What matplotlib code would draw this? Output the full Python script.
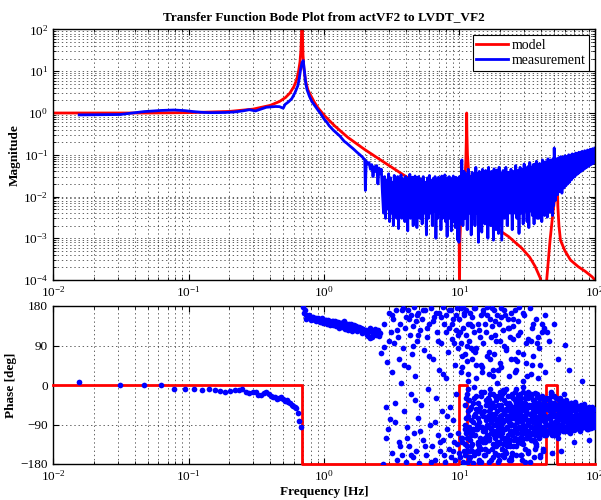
import numpy as np
import matplotlib
matplotlib.use("Agg")
import matplotlib.pyplot as plt
from matplotlib.ticker import FixedLocator, LogLocator, NullFormatter

matplotlib.rcParams['font.family'] = "Liberation Serif"
matplotlib.rcParams['mathtext.default'] = 'regular'
matplotlib.rcParams.update({'font.size': 9.5})

title = "Transfer Function Bode Plot from actVF2 to LVDT_VF2"

# model magnitude
model_f = [0.01, 0.05, 0.1, 0.2, 0.3, 0.4, 0.47, 0.52, 0.56, 0.6, 0.63, 0.65, 0.665,
           0.675, 0.682, 0.686, 0.69, 0.694, 0.70, 0.71, 0.73, 0.76, 0.8, 0.85, 0.9,
           1.0, 1.2, 1.5, 2.0, 3.0, 4.0, 5.0, 6.0, 7.0, 8.0, 9.0, 9.5, 9.8, 9.95, 10.0,
           10.05, 10.2, 10.5, 10.8, 11.0, 11.15, 11.25, 11.3, 11.35, 11.45, 11.7, 12.5,
           14.0, 16.0, 19.4, 23.0, 28.8, 33.0, 36.2, 39.5, 41.0, 42.0, 43.0, 44.0,
           46.6, 48.9, 50.7, 51.5, 52.2, 52.6, 53.2, 54.2, 55.6, 60.0, 66.0, 75.0,
           85.0, 95.0, 100.0]
model_mag = [1.0, 1.0, 1.02, 1.09, 1.24, 1.52, 1.89, 2.35, 3.0, 4.3, 6.4, 10.3, 16.8,
             31, 70, 300, 300, 70, 25, 12, 6.0, 3.6, 2.6, 1.8, 1.35,
             0.89, 0.49, 0.26, 0.133, 0.056, 0.0305, 0.0195, 0.0133, 0.0095, 0.0072, 0.0055, 0.0045, 0.0025, 0.0008, 0.00003,
             0.0008, 0.0025, 0.006, 0.015, 0.03, 0.08, 0.3, 1.0, 0.3, 0.1, 0.035, 0.013,
             0.0062, 0.0035, 0.0016, 0.0011, 0.00058, 0.00035, 0.00021, 0.00011, 0.00004, 0.00001, 0.00004, 0.0001,
             0.0009, 0.004, 0.01, 0.02, 0.05, 0.03, 0.0057, 0.002, 0.0009, 0.0005, 0.0003, 0.00021,
             0.00016, 0.00012, 0.0001]

# model phase
model_ph_f = [0.01, 0.69, 0.69, 10.0, 10.0, 11.3, 11.3, 43.5, 43.5, 52.5, 52.5, 100]
model_ph = [0, 0, -180, -180, 0, 0, -180, -180, 0, 0, -180, -180]

# measured magnitude, smooth part
meas_f = [0.0156, 0.0312, 0.0469, 0.0625, 0.0781, 0.0938, 0.109, 0.125, 0.141, 0.156,
          0.188, 0.219, 0.25, 0.281, 0.312, 0.344, 0.375, 0.406, 0.438, 0.469,
          0.5, 0.516, 0.547, 0.578, 0.609, 0.641, 0.656, 0.672, 0.688, 0.703,
          0.719, 0.734, 0.75, 0.781, 0.812, 0.844, 0.875, 0.906, 0.938, 1.0,
          1.05, 1.09, 1.17, 1.25, 1.31, 1.41, 1.47, 1.56, 1.64, 1.75,
          1.84, 1.94, 2.0]
meas_mag = [0.9, 0.92, 1.08, 1.15, 1.18, 1.14, 1.08, 1.04, 1.02, 1.02,
            1.03, 1.06, 1.12, 1.2, 1.12, 1.25, 1.37, 1.4, 1.43, 1.42,
            1.3, 1.6, 1.85, 2.2, 3.0, 4.5, 6.5, 11, 16, 18,
            9, 5, 3.6, 2.5, 1.9, 1.6, 1.35, 1.15, 1.0, 0.72,
            0.6, 0.5, 0.39, 0.32, 0.28, 0.21, 0.19, 0.16, 0.14, 0.115,
            0.1, 0.085, 0.075]

# measured magnitude, noisy part above 2 Hz
noisy_f = [2.02, 2.05, 2.1, 2.15, 2.2, 2.25, 2.3, 2.35, 2.4, 2.45, 2.5, 2.55, 2.6, 2.65, 2.7,
           2.75, 2.8, 2.85, 2.9, 2.95, 3.0, 3.05, 3.1, 3.15, 3.2, 3.25, 3.3, 3.35, 3.4, 3.45, 3.5,
           3.55, 3.6, 3.65, 3.7, 3.75, 3.8, 3.85, 3.9, 3.95, 4.0, 4.05, 4.1, 4.15, 4.2, 4.25, 4.3,
           4.35, 4.4, 4.45, 4.5, 4.55, 4.6, 4.65, 4.7, 4.75, 4.8, 4.85, 4.9, 4.95, 5.0,
           5.1, 5.2, 5.3, 5.4, 5.5, 5.6, 5.7, 5.8, 5.9, 6.0,
           6.1, 6.2, 6.3, 6.4, 6.5, 6.6, 6.7, 6.8, 6.9, 7.0,
           7.1, 7.2, 7.3, 7.4, 7.5, 7.6, 7.7, 7.8, 7.9, 8.0,
           8.1, 8.2, 8.3, 8.4, 8.5, 8.6, 8.7, 8.8, 8.9, 9.0,
           9.1, 9.2, 9.3, 9.4, 9.5, 9.6, 9.7, 9.8, 9.9, 10.0,
           10.2, 10.4, 10.6, 10.8, 11.0, 11.2, 11.4, 11.6, 11.8, 12.0,
           12.2, 12.4, 12.6, 12.8, 13.0, 13.2, 13.4, 13.6, 13.8, 14.0,
           14.2, 14.4, 14.6, 14.8, 15.0, 15.2, 15.4, 15.6, 15.8, 16.0,
           16.2, 16.4, 16.6, 16.8, 17.0, 17.2, 17.4, 17.6, 17.8, 18.0,
           18.2, 18.4, 18.6, 18.8, 19.0, 19.2, 19.4, 19.6, 19.8, 20.0,
           20.5, 21.0, 21.5, 22.0, 22.5, 23.0, 23.5, 24.0, 24.5, 25.0,
           25.5, 26.0, 26.5, 27.0, 27.5, 28.0, 28.5, 29.0, 29.5, 30.0,
           30.5, 31.0, 31.5, 32.0, 32.5, 33.0, 33.5, 34.0, 34.5, 35.0,
           35.5, 36.0, 36.5, 37.0, 37.5, 38.0, 38.5, 39.0, 39.5, 40.0,
           40.5, 41.0, 41.5, 42.0, 42.5, 43.0, 43.5, 44.0, 44.5, 45.0,
           45.5, 46.0, 46.5, 47.0, 47.5, 48.0, 48.5, 49.0, 49.5, 50.0,
           51, 52, 53, 54, 55, 56, 57, 58, 59, 60,
           61, 62, 63, 64, 65, 66, 67, 68, 69, 70,
           71, 72, 73, 74, 75, 76, 77, 78, 79, 80,
           81, 82, 83, 84, 85, 86, 87, 88, 89, 90,
           91, 92, 93, 94, 95, 96, 97, 98, 99, 100]
noisy_mag = [0.014, 0.07, 0.06, 0.065, 0.045, 0.058, 0.03, 0.052, 0.04, 0.055, 0.02, 0.048, 0.035, 0.045, 0.012,
             0.004, 0.03, 0.003, 0.025, 0.005, 0.035, 0.0025, 0.028, 0.004, 0.022, 0.002, 0.032, 0.0045, 0.026, 0.003, 0.03,
             0.0017, 0.024, 0.004, 0.033, 0.003, 0.027, 0.005, 0.022, 0.0025, 0.03, 0.004, 0.025, 0.0015, 0.028, 0.0045, 0.034,
             0.003, 0.023, 0.004, 0.029, 0.002, 0.026, 0.0042, 0.031, 0.003, 0.024, 0.0018, 0.028, 0.004, 0.03,
             0.003, 0.026, 0.0022, 0.03, 0.004, 0.022, 0.0012, 0.028, 0.003, 0.032,
             0.004, 0.024, 0.002, 0.027, 0.0045, 0.03, 0.001, 0.025, 0.003, 0.029,
             0.004, 0.023, 0.0016, 0.031, 0.003, 0.026, 0.0045, 0.033, 0.0025, 0.025,
             0.0011, 0.028, 0.004, 0.03, 0.003, 0.024, 0.0015, 0.027, 0.004, 0.031,
             0.0025, 0.026, 0.0018, 0.029, 0.003, 0.025, 0.0009, 0.028, 0.0008, 0.03,
             0.0022, 0.075, 0.002, 0.04, 0.003, 0.035, 0.0016, 0.045, 0.004, 0.03,
             0.0012, 0.038, 0.003, 0.032, 0.002, 0.05, 0.004, 0.035, 0.0008, 0.04,
             0.0025, 0.03, 0.0014, 0.045, 0.004, 0.033, 0.0022, 0.042, 0.003, 0.03,
             0.001, 0.05, 0.003, 0.036, 0.002, 0.04, 0.004, 0.032, 0.0009, 0.046,
             0.0025, 0.035, 0.0016, 0.043, 0.004, 0.034, 0.0013, 0.05, 0.003, 0.038,
             0.0009, 0.042, 0.003, 0.05, 0.002, 0.038, 0.004, 0.045, 0.0016, 0.04,
             0.004, 0.055, 0.003, 0.042, 0.0013, 0.05, 0.004, 0.045, 0.0022, 0.06,
             0.0045, 0.048, 0.0025, 0.052, 0.0018, 0.065, 0.0045, 0.05, 0.0035, 0.058,
             0.0022, 0.06, 0.005, 0.07, 0.003, 0.055, 0.003, 0.062, 0.005, 0.058,
             0.0025, 0.075, 0.0045, 0.06, 0.0035, 0.068, 0.006, 0.065, 0.0032, 0.08,
             0.006, 0.07, 0.0042, 0.075, 0.0065, 0.072, 0.0035, 0.08, 0.006, 0.145,
             0.008, 0.08, 0.011, 0.085, 0.013, 0.09, 0.012, 0.088, 0.016, 0.095,
             0.018, 0.09, 0.02, 0.1, 0.022, 0.098, 0.025, 0.105, 0.028, 0.1,
             0.03, 0.11, 0.033, 0.105, 0.035, 0.115, 0.038, 0.11, 0.04, 0.12,
             0.043, 0.115, 0.045, 0.125, 0.048, 0.12, 0.05, 0.13, 0.053, 0.125,
             0.055, 0.135, 0.058, 0.13, 0.06, 0.14, 0.062, 0.135, 0.065, 0.145]

# measured phase below the resonance
phA_f = [0.0156, 0.0312, 0.0469, 0.0625, 0.0781, 0.0938, 0.1094, 0.125, 0.1406, 0.1562,
         0.1719, 0.1875, 0.2031, 0.2188, 0.2344, 0.25, 0.2656, 0.2812, 0.2969, 0.3125,
         0.3281, 0.3438, 0.3594, 0.375, 0.3906, 0.4062, 0.4219, 0.4375, 0.4531, 0.4688,
         0.4844, 0.5, 0.5156, 0.5312, 0.5469, 0.5625, 0.5781, 0.5938, 0.6094, 0.625,
         0.6406, 0.6562, 0.6719]
phA = [7, -1, 1, -1, -10, -10, -8, -11, -8, -11,
       -14, -16, -13, -12, -11, -10, -15, -19, -17, -16,
       -23, -23, -18, -17, -20, -25, -27, -28, -32, -29,
       -27, -32, -36, -34, -38, -41, -46, -48, -50, -52,
       -64, -83, -95]

# measured phase, 0.7 - 2.6 Hz band
phB_f = [0.703, 0.719, 0.734, 0.75, 0.766, 0.781, 0.797, 0.812, 0.828, 0.844,
         0.859, 0.875, 0.891, 0.906, 0.922, 0.938, 0.953, 0.969, 1.0, 1.03,
         1.06, 1.09, 1.12, 1.16, 1.19, 1.22, 1.25, 1.28, 1.31, 1.34,
         1.38, 1.41, 1.44, 1.48, 1.52, 1.56, 1.59, 1.62, 1.66, 1.7,
         1.73, 1.77, 1.8, 1.84, 1.88, 1.92, 1.95, 2.0, 2.05, 2.1,
         2.14, 2.2, 2.25, 2.3, 2.36, 2.42, 2.48, 2.55, 2.6,
         0.71, 0.742, 0.774, 0.805, 0.836, 0.867, 0.898, 0.93, 0.961, 0.985,
         1.015, 1.045, 1.075, 1.105, 1.14, 1.175, 1.205, 1.235, 1.265, 1.295,
         1.325, 1.36, 1.395, 1.43, 1.46, 1.5, 1.54, 1.6, 1.68, 1.75,
         1.82, 1.9, 1.98, 2.08, 2.18, 2.28, 2.39, 2.5]
phB = [178, 172, 160, 157, 155, 156, 152, 154, 150, 151,
       149, 152, 148, 150, 147, 149, 146, 148, 145, 147,
       144, 146, 142, 145, 141, 143, 139, 142, 138, 141,
       137, 140, 135, 139, 136, 133, 138, 131, 136, 129,
       134, 127, 132, 125, 130, 122, 128, 120, 126, 111,
       124, 108, 121, 118, 127, 115, 122, 112, 119,
       165, 150, 160, 148, 156, 145, 153, 144, 152, 141,
       149, 139, 148, 137, 146, 136, 145, 134, 144, 130,
       142, 132, 145, 128, 140, 126, 138, 124, 131, 122,
       128, 118, 125, 114, 129, 110, 117, 125]

# measured phase, 2.6 - 10 Hz (scattered)
phC_f = [2.65, 2.72, 2.78, 2.85, 2.9, 2.95, 3.0, 3.05, 3.1, 3.15,
         3.2, 3.25, 3.3, 3.35, 3.4, 3.45, 3.5, 3.55, 3.6, 3.65,
         3.7, 3.75, 3.8, 3.85, 3.9, 3.95, 4.0, 4.05, 4.1, 4.15,
         4.2, 4.25, 4.3, 4.35, 4.4, 4.45, 4.5, 4.55, 4.6, 4.65,
         4.7, 4.75, 4.8, 4.85, 4.9, 4.95, 5.0, 5.1, 5.2, 5.3,
         5.4, 5.5, 5.6, 5.7, 5.8, 5.9, 6.0, 6.1, 6.2, 6.3,
         6.4, 6.5, 6.6, 6.7, 6.8, 6.9, 7.0, 7.1, 7.2, 7.3,
         7.4, 7.5, 7.6, 7.7, 7.8, 7.9, 8.0, 8.1, 8.2, 8.3,
         8.4, 8.5, 8.6, 8.7, 8.8, 8.9, 9.0, 9.1, 9.2, 9.3,
         9.4, 9.5, 9.6, 9.7, 9.8, 9.9,
         2.75, 2.88, 3.02, 3.18, 3.32, 3.48, 3.62, 3.78, 3.92, 4.08,
         4.22, 4.38, 4.52, 4.68, 4.82, 4.98, 5.15, 5.35, 5.55, 5.75,
         5.95, 6.15, 6.35, 6.55, 6.75, 6.95, 7.15, 7.35, 7.55, 7.75,
         7.95, 8.15, 8.35, 8.55, 8.75, 8.95, 9.15, 9.35, 9.55, 9.75]
phC = [73, -179, 87, -120, 53, -100, 165, -78, 120, 30,
       -155, 150, 95, -40, 170, -170, 110, 60, -130, 140,
       5, -160, 175, 85, -60, 130, -175, 155, -95, 40,
       170, -140, 115, -20, 160, 70, -165, 135, -110, 178,
       20, 145, -150, 100, -75, 165, -178, 125, -45, 150,
       -125, 80, 170, -160, 110, -10, 140, -90, 175, -140,
       60, 155, -170, -30, 120, -115, 165, 35, -150, 95,
       -60, 178, -125, 140, -175, 15, 160, -100, 75, -145,
       130, -50, 170, -165, 105, -80, 150, -130, 45, -170,
       125, -20, 175, -110, 85, -155,
       140, -50, 100, 160, -85, 125, -140, 170, 45, -120,
       150, -160, 90, -35, 160, 115, -105, 170, -140, 130,
       65, -175, 145, -85, 165, 100, -130, 155, 25, -160,
       120, -70, 170, -115, 140, -150, 95, 160, -135, 115]

# measured phase above 10 Hz: dense cloud
phD_f = [11.0, 11.1, 11.2, 11.3, 11.4, 11.5, 11.7, 11.8, 11.9, 12.1,
         12.2, 12.4, 12.5, 12.7, 12.8, 13.0, 13.2, 13.4, 13.6, 13.8,
         14.0, 14.2, 14.4, 14.7, 14.9,
         15.1, 15.2, 15.4, 15.5, 15.7, 15.8, 16.0, 16.1, 16.3, 16.4,
         16.6, 16.7, 16.9, 17.0, 17.2, 17.3, 17.5, 17.6, 17.8, 17.9,
         18.1, 18.2, 18.4, 18.5, 18.7, 18.8, 19.0, 19.1, 19.3, 19.4,
         19.6, 19.7, 19.8, 19.9, 20.0,
         20.2, 20.4, 20.6, 20.8, 21.0, 21.2, 21.4, 21.6, 21.8, 22.0,
         22.2, 22.4, 22.6, 22.8, 23.0, 23.2, 23.4, 23.6, 23.8, 24.0,
         24.3, 24.5, 24.7, 25.0, 25.2, 25.4, 25.7, 25.9, 26.1, 26.4,
         26.6, 26.8, 27.1, 27.3, 27.5, 27.8, 28.0, 28.2, 28.5, 28.7,
         28.9, 29.1, 29.3, 29.5, 29.7, 29.9, 24.1, 26.0, 27.0, 28.4,
         30.2, 30.5, 30.8, 31.1, 31.4, 31.7, 32.0, 32.3, 32.6, 32.9,
         33.2, 33.5, 33.8, 34.1, 34.4, 34.7, 35.0, 35.3, 35.6, 35.9,
         36.2, 36.5, 36.8, 37.1, 37.4, 37.7, 38.0, 38.3, 38.6, 38.9,
         39.2, 39.5, 39.8, 40.1, 40.4, 40.7, 41.0, 41.4, 41.8, 42.2,
         42.6, 43.0, 43.4, 43.8, 44.2, 44.6, 31.0, 34.0, 37.0, 40.0,
         45.0, 45.5, 46.0, 46.5, 47.0, 47.5, 48.0, 48.5, 49.0, 49.5,
         50.0, 50.5, 51.0, 51.5, 52.0, 52.5, 53.0, 53.5, 54.0, 54.5,
         55.0, 55.6, 56.2, 56.8, 57.4, 58.0, 58.6, 59.2, 59.8, 60.4,
         61.0, 61.6, 62.2, 62.8, 63.4, 64.0, 64.6, 46.3, 48.7, 51.2,
         53.8, 56.5, 59.0, 61.3, 63.7,
         65.5, 66.5, 67.5, 68.5, 69.5, 70.5, 71.5, 72.5, 73.5, 74.5,
         75.5, 76.5, 77.5, 78.5, 79.5, 80.5, 81.5, 82.5, 83.5, 84.5,
         85.5, 86.5, 87.5, 88.5, 89.5, 90.5, 91.5, 92.5, 93.5, 94.5,
         95.5, 96.5, 97.5, 98.5, 99.5, 67.0, 70.0, 73.0, 76.0, 79.0,
         82.0, 85.0, 88.0, 91.0, 94.0, 97.0, 99.0, 72.0, 81.0, 90.0]
phD = [-45, -110, -75, -20, -140, -60, -95, -35, -125, -80,
       -50, -150, -100, -30, -70, -115, -55, -90, -135, -40,
       -85, -120, -25, -65, -105,
       -60, -15, -100, -130, -45, -80, -115, -30, -70, -95,
       -125, -55, -10, -85, -110, -40, -65, -135, -20, -90,
       -50, -120, -75, -35, -105, -60, -130, -25, -95, -45,
       -80, -115, -15, -70, -100,
       -45, -90, -20, -120, -65, -100, -35, -80, -130, -55,
       -10, -95, -70, -115, -40, -85, -60, -125, -25, -105,
       -50, -75, -110, -30, -90, -65, -15, -120, -45, -100,
       -80, -55, -130, -35, -95, -70, -20, -110, -60, -85,
       -40, -125, -5, -75, -100, -50, -88, -42, -68, -118,
       -70, -30, -105, -55, -90, -120, -15, -80, -45, -110,
       -65, -95, -25, -125, -50, -85, -35, -100, -70, -60,
       -115, -40, -90, -20, -75, -105, -55, -120, -30, -85,
       -65, -100, -45, -80, -110, -25, -60, -95, -40, -115,
       -70, -50, -90, -30, -105, -75, -62, -48, -98, -58,
       -50, -90, -30, -75, -110, -60, -40, -95, -70, -115,
       -25, -85, -55, -100, -45, -80, -65, -105, -35, -90,
       -60, -75, -45, -100, -55, -85, -70, -40, -95, -60,
       -80, -50, -105, -65, -90, -45, -75, -68, -52, -82,
       -58, -92, -62, -72, -88,
       -60, -85, -50, -95, -70, -45, -100, -65, -80, -55,
       -90, -75, -50, -98, -62, -85, -72, -48, -92, -68,
       -80, -55, -100, -70, -60, -88, -76, -52, -95, -66,
       -82, -58, -90, -72, -78, -40, -102, -58, -88, -45,
       -96, -62, -84, -50, -98, -65, -75, -75, -65, -80]

# second pass over the dense cloud
phD2_f = [11.05, 11.15, 11.35, 11.55, 11.65, 11.95, 12.05, 12.3, 12.55, 12.65,
          12.9, 13.1, 13.3, 13.5, 13.7, 13.9, 14.1, 14.3, 14.5, 14.8,
          15.0, 15.3, 15.6, 15.9, 16.2, 16.5, 16.8, 17.1, 17.4, 17.7,
          18.0, 18.3, 18.6, 18.9, 19.2, 19.5, 19.8, 11.8, 12.9, 13.9,
          14.6, 15.4, 16.2, 16.9, 17.6, 18.3, 19.0, 19.6, 13.3, 16.6,
          20.1, 20.3, 20.5, 20.7, 20.9, 21.1, 21.3, 21.5, 21.7, 21.9,
          22.1, 22.3, 22.5, 22.7, 22.9, 23.1, 23.3, 23.5, 23.7, 23.9,
          24.2, 24.4, 24.6, 24.8, 25.1, 25.3, 25.6, 25.8, 26.2, 26.5,
          26.7, 26.9, 27.2, 27.4, 27.6, 27.9, 28.1, 28.3, 28.6, 28.8,
          29.0, 29.2, 29.4, 29.6, 29.8, 30.0, 30.3, 30.6, 30.9, 31.2,
          31.5, 31.8, 32.1, 32.4, 32.7, 33.0, 33.3, 33.6, 33.9, 34.2,
          34.5, 34.8, 35.1, 35.4, 35.7, 36.0, 36.3, 36.6, 36.9, 37.2,
          37.5, 37.8, 38.1, 38.4, 38.7, 39.0, 39.3, 39.6, 39.9, 40.2,
          40.5, 40.8, 41.2, 41.6, 42.0, 42.4, 42.8, 43.2, 43.6, 44.0,
          44.4, 44.8, 21.0, 23.5, 26.0, 28.5, 31.0, 33.5, 36.0, 38.5,
          45.2, 45.7, 46.2, 46.7, 47.2, 47.7, 48.2, 48.7, 49.2, 49.7,
          50.2, 50.7, 51.2, 51.7, 52.2, 52.7, 53.2, 53.7, 54.2, 54.7,
          55.3, 55.9, 56.5, 57.1, 57.7, 58.3, 58.9, 59.5, 60.1, 60.7,
          61.3, 61.9, 62.5, 63.1, 63.7, 64.3, 64.9, 65.8, 66.8, 67.8,
          68.8, 69.8, 70.8, 71.8, 72.8, 73.8, 74.8, 75.8, 76.8, 77.8,
          78.8, 79.8, 80.8, 81.8, 82.8, 83.8, 84.8, 85.8, 86.8, 87.8,
          88.8, 89.8, 90.8, 91.8, 92.8, 93.8, 94.8, 95.8, 96.8, 97.8,
          98.8, 99.8, 46.0, 49.0, 52.0, 55.0, 58.0, 61.0, 64.0, 67.0,
          70.0, 73.0, 76.0, 79.0, 82.0, 85.0, 88.0, 91.0, 94.0, 97.0,
          47.5, 53.5, 59.5, 65.5, 71.5, 77.5, 83.5, 89.5, 95.5, 99.0]
phD2 = [-90, -30, -120, -70, -10, -105, -55, -135, -85, -40,
        -115, -65, -25, -100, -75, -145, -50, -95, -15, -130,
        -70, -105, -35, -90, -125, -60, -20, -100, -80, -45,
        -115, -65, -140, -30, -85, -110, -55, -150, -5, -60,
        -95, -120, -45, -75, -105, -25, -85, -130, -100, -35,
        -75, -30, -110, -55, -135, -85, -15, -100, -60, -40,
        -120, -70, -95, -25, -50, -130, -80, -105, -45, -65,
        -90, -20, -115, -55, -75, -125, -35, -100, -60, -85,
        -110, -25, -70, -95, -45, -120, -65, -30, -100, -80,
        -55, -135, -15, -90, -110, -70, -40, -95, -120, -60,
        -80, -30, -105, -50, -85, -115, -65, -20, -95, -75,
        -45, -110, -60, -125, -35, -85, -70, -100, -50, -80,
        -25, -115, -60, -90, -40, -105, -70, -55, -95, -30,
        -80, -110, -50, -65, -100, -35, -85, -75, -115, -55,
        -90, -45, -12, -140, -8, -132, -20, -125, -18, -118,
        -75, -35, -100, -60, -85, -20, -115, -50, -90, -65,
        -40, -105, -70, -30, -95, -55, -80, -110, -45, -65,
        -90, -35, -75, -100, -55, -85, -65, -105, -45, -80,
        -60, -95, -40, -75, -100, -55, -85, -65, -95, -50,
        -80, -70, -60, -90, -48, -82, -68, -100, -55, -78,
        -92, -62, -86, -52, -74, -96, -58, -80, -70, -88,
        -64, -92, -56, -78, -84, -60, -96, -72, -54, -86,
        -68, -80, -108, -25, -112, -30, -105, -35, -100, -42,
        -98, -45, -97, -48, -95, -50, -94, -52, -92, -55,
        -15, -120, -20, -110, -38, -104, -44, -100, -50, -95]

# measured phase above 10 Hz: scattered points
phE_f = [10.0, 10.1, 10.2, 10.3, 10.4, 10.5, 10.6, 10.7, 10.8, 10.9,
         11.0, 11.1, 11.25, 11.35, 11.5, 11.6, 11.75, 11.85, 12.0, 12.15,
         12.3, 12.45, 12.6, 12.75, 12.9, 13.1, 13.3, 13.5, 13.7, 13.9,
         14.1, 14.3, 14.5, 14.6, 14.8, 10.25, 10.65, 11.45, 12.35, 13.6,
         15.0, 15.3, 15.6, 15.9, 16.2, 16.5, 16.8, 17.1, 17.4, 17.7,
         18.0, 18.3, 18.6, 18.9, 19.2, 19.5, 19.8, 20.1, 20.5, 20.9,
         21.3, 21.7, 22.1, 22.5, 22.9, 23.3, 23.7, 24.1, 24.5, 24.9,
         15.5, 16.4, 17.3, 18.2, 19.1, 20.3, 21.5, 22.7, 23.9, 24.7,
         25.5, 26.3, 27.2, 28.1, 29.0, 30.0, 31.0, 32.0, 33.1, 34.2,
         35.3, 36.5, 37.7, 39.0, 40.3, 41.6, 43.0, 44.4, 27.7, 30.5,
         33.6, 36.0, 38.5, 42.0, 25.8,
         46, 48, 50, 53, 56, 60, 64, 70, 80, 90,
         10.2, 10.8, 11.3, 11.9, 12.6, 13.2, 13.9, 14.5, 15.2, 15.9,
         16.6, 17.3, 18.0, 18.8, 19.6, 20.4, 21.3, 22.2, 23.1, 24.0,
         25.0, 26.1, 27.2, 28.3, 29.5, 30.8, 32.1, 33.5, 34.9, 36.4,
         37.9, 39.5, 41.2, 43.0, 12.2, 14.0, 17.8, 21.8, 26.7, 31.5,
         10.15, 10.45, 10.75, 11.05, 11.4, 11.7, 12.05, 12.4, 12.8, 13.2,
         13.6, 14.0, 14.4, 14.9, 15.4, 15.9, 16.5, 17.1, 17.7, 18.4,
         19.1, 19.8, 20.6, 21.4, 22.2, 23.1, 24.0, 25.0, 26.0, 27.1,
         28.2, 29.4, 30.6, 31.9, 33.2, 34.6, 36.0, 37.5, 39.1, 40.7,
         10.35, 10.95, 11.55, 12.2, 12.95, 13.75, 14.7, 15.7, 16.8, 18.0,
         19.3, 20.7, 22.2, 23.8, 25.5, 27.4, 29.4, 31.6, 34.0, 36.6]
phE = [150, -165, 95, 175, -130, 40, 130, -175, 160, 70,
       -160, 115, 170, -150, 140, 10, -170, 100, 165, -140,
       60, 155, -178, 120, -160, 175, 85, -150, 140, -170,
       110, 160, -145, 30, 170, -120, 178, -178, 135, -155,
       165, -160, 120, 178, -150, 75, 150, -170, 135, 20,
       170, -155, 100, 160, -175, 140, 50, 175, -145, 125,
       -165, 160, 85, -140, 150, -170, 110, 165, -155, 135,
       140, -175, 175, 115, -160, 155, -150, 130, -165, 105,
       170, -160, 145, 120, -170, 160, 95, -155, 175, 130,
       -165, 150, 110, -160, 140, -150, 160, 120, 178, -175,
       100, -145, 85, 130, 60,
       100, -155, 140, 60, -150, 91, 35, -130, 10, -125,
       30, -150, 55, -165, 80, 15, -140, 45, -160, 65,
       25, -145, 70, 5, -170, 40, 90, -155, 20, 60,
       -140, 35, 75, -160, 10, 50, -150, 25, 65, -135,
       15, 45, -145, 30, 85, -175, 35, -130, 55, 20,
       120, -120, 165, -135, 90, -165, 140, -110, 175, 45,
       -130, 125, -175, 95, -145, 160, -120, 110, -165, 145,
       -135, 100, -160, 170, -125, 130, -170, 150, -140, 115,
       -160, 165, -145, 105, -175, 140, -130, 95, -165, 120,
       65, -100, 25, -115, 75, -95, 40, -125, 60, -110,
       35, -120, 80, -105, 30, -130, 70, -115, 45, -140]

fig = plt.figure(figsize=(6.01, 5.0), dpi=100)
ax1 = fig.add_axes([0.0882, 0.44, 0.9018, 0.501])
ax2 = fig.add_axes([0.0882, 0.072, 0.9018, 0.316])

grid_style = dict(ls=(0, (2, 4)), color='0.15', lw=0.5)

# magnitude
ax1.loglog(model_f, model_mag, color='#ff0000', lw=2, label='model')
ax1.loglog(meas_f + noisy_f, meas_mag + noisy_mag, color='#0000ff', lw=2.0, label='measurement')
ax1.set_xlim(1e-2, 1e2)
ax1.set_ylim(1e-4, 1e2)
ax1.yaxis.set_major_locator(FixedLocator([1e-4, 1e-3, 1e-2, 1e-1, 1, 10, 100]))
ax1.yaxis.set_minor_locator(LogLocator(base=10, subs=np.arange(2, 10), numticks=20))
ax1.yaxis.set_minor_formatter(NullFormatter())
ax1.set_ylabel("Magnitude", fontweight='bold')
ax1.set_title(title, fontweight='bold', fontsize=9.5, pad=7)
leg = ax1.legend(loc='upper right', fancybox=False, edgecolor='k', framealpha=1,
                 fontsize=10, handlelength=2.3, handletextpad=0.3, borderaxespad=0.4,
                 borderpad=0.25, labelspacing=0.2)
leg.get_frame().set_linewidth(0.8)

# phase
ax2.semilogx(model_ph_f, model_ph, color='#ff0000', lw=2, clip_on=False, zorder=2.6)
ax2.semilogx(phA_f + phB_f + phC_f + phD_f + phD2_f + phE_f,
             phA + phB + phC + phD + phD2 + phE,
             'o', color='#0000ff', ms=4.1, mew=0, zorder=2.7)
ax2.set_xlim(1e-2, 1e2)
ax2.set_ylim(-180, 180)
ax2.set_yticks([-180, -90, 0, 90, 180])
ax2.set_ylabel("Phase [deg]", fontweight='bold')
ax2.set_xlabel("Frequency [Hz]", fontweight='bold', labelpad=2)

for ax in (ax1, ax2):
    ax.xaxis.set_major_locator(FixedLocator([1e-2, 1e-1, 1, 10, 100]))
    ax.xaxis.set_minor_locator(LogLocator(base=10, subs=np.arange(2, 10), numticks=20))
    ax.xaxis.set_minor_formatter(NullFormatter())
    ax.grid(True, which='both', **grid_style)
    ax.tick_params(which='both', direction='in', top=True, right=True)
    ax.tick_params(which='major', length=4)
    ax.tick_params(which='minor', length=2)
    for s in ax.spines.values():
        s.set_linewidth(1.0)
ax2.grid(False, which='minor', axis='y')

ax1.yaxis.set_label_coords(-0.059, 0.5)
ax2.yaxis.set_label_coords(-0.066, 0.5)

plt.savefig("out.png", dpi=100)
